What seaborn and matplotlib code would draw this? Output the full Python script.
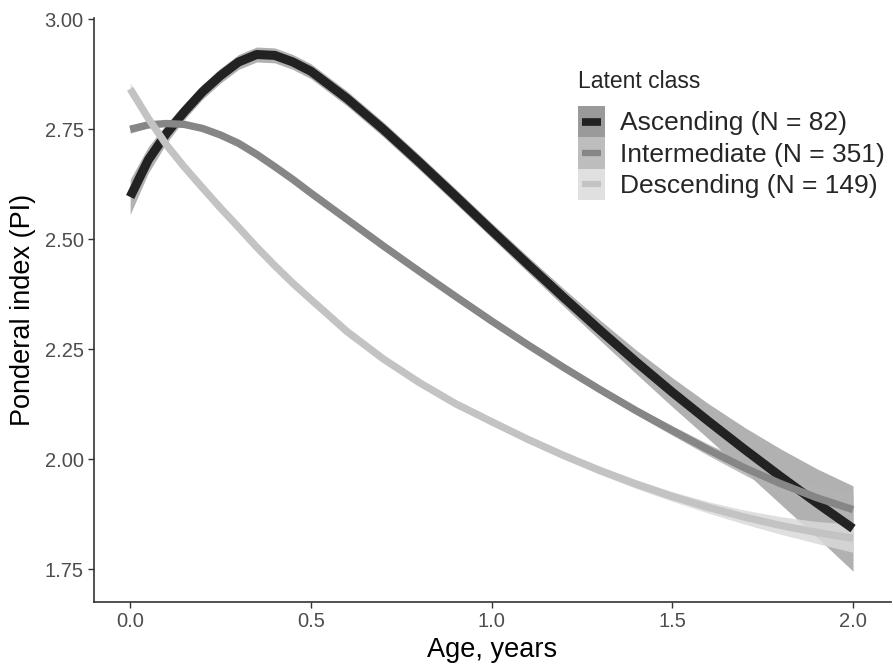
import numpy as np
import pandas as pd
import matplotlib
matplotlib.use("Agg")
import matplotlib.pyplot as plt
import seaborn as sns
from matplotlib.patches import Patch
from matplotlib.lines import Line2D
from matplotlib.legend_handler import HandlerTuple, HandlerBase

# ---- data ----
age = [0.0, 0.05, 0.1, 0.15, 0.2, 0.25, 0.3, 0.35, 0.4, 0.45, 0.5,
       0.6, 0.7, 0.8, 0.9, 1.0, 1.1, 1.2, 1.3, 1.4, 1.5, 1.6, 1.7, 1.8, 1.9, 2.0]

ascending = [2.596, 2.68, 2.74, 2.79, 2.835, 2.872, 2.903, 2.92, 2.918, 2.903, 2.882,
             2.82, 2.75, 2.675, 2.598, 2.52, 2.443, 2.367, 2.293, 2.221, 2.152,
             2.086, 2.022, 1.96, 1.90, 1.842]
ascending_se = [0.04, 0.03, 0.022, 0.018, 0.017, 0.017, 0.017, 0.017, 0.017, 0.017, 0.017,
                0.017, 0.017, 0.017, 0.017, 0.017, 0.018, 0.02, 0.023, 0.027, 0.033,
                0.04, 0.05, 0.063, 0.078, 0.097]

intermediate = [2.750, 2.760, 2.763, 2.761, 2.752, 2.737, 2.718, 2.693, 2.665, 2.636, 2.605,
                2.545, 2.485, 2.427, 2.37, 2.314, 2.26, 2.208, 2.158, 2.11, 2.065,
                2.021, 1.98, 1.944, 1.912, 1.885]
intermediate_se = [0.009, 0.007, 0.006, 0.006, 0.006, 0.006, 0.006, 0.006, 0.006, 0.006, 0.006,
                   0.006, 0.006, 0.006, 0.006, 0.006, 0.006, 0.007, 0.008, 0.009, 0.011,
                   0.013, 0.016, 0.021, 0.027, 0.035]

descending = [2.842, 2.775, 2.715, 2.664, 2.617, 2.571, 2.527, 2.482, 2.44, 2.40, 2.363,
              2.29, 2.228, 2.174, 2.126, 2.085, 2.045, 2.008, 1.974, 1.943, 1.915,
              1.89, 1.868, 1.849, 1.833, 1.82]
descending_se = [0.014, 0.01, 0.008, 0.007, 0.007, 0.007, 0.007, 0.007, 0.007, 0.007, 0.007,
                 0.007, 0.007, 0.007, 0.007, 0.007, 0.007, 0.008, 0.009, 0.01, 0.011,
                 0.013, 0.016, 0.02, 0.025, 0.032]

classes = ["Ascending (N = 82)", "Intermediate (N = 351)", "Descending (N = 149)"]
x_ticks = [0.0, 0.5, 1.0, 1.5, 2.0]
y_ticks = [1.75, 2.00, 2.25, 2.50, 2.75, 3.00]

# ---- styles ----
line_colors = {classes[0]: "#222222", classes[1]: "#868686", classes[2]: "#c3c3c3"}
fill_colors = {classes[0]: "#a4a4a4", classes[1]: "#b3b3b3", classes[2]: "#dadada"}
key_colors = {classes[0]: "#9a9a9a", classes[1]: "#bdbdbd", classes[2]: "#e0e0e0"}
line_widths = {classes[0]: 6.5, classes[1]: 5.3, classes[2]: 5.3}

series = {classes[0]: (ascending, ascending_se),
          classes[1]: (intermediate, intermediate_se),
          classes[2]: (descending, descending_se)}

rows = []
for c, (vals, se) in series.items():
    for a, v, s in zip(age, vals, se):
        rows.append({"age": a, "pi": v, "se": s, "cls": c})
df = pd.DataFrame(rows)

sns.set_style("ticks")
plt.rcParams['font.family'] = ['Liberation Sans', 'DejaVu Sans']

fig = plt.figure(figsize=(8.93, 6.71), dpi=100)
ax = fig.add_axes([94 / 893, 69 / 671, (891 - 94) / 893, (602 - 18) / 671])

for c in classes:
    d = df[df["cls"] == c]
    ax.fill_between(d["age"], d["pi"] - d["se"], d["pi"] + d["se"],
                    color=fill_colors[c], alpha=0.85, linewidth=0, zorder=1)

for c in classes:
    d = df[df["cls"] == c]
    sns.lineplot(data=d, x="age", y="pi", color=line_colors[c],
                 linewidth=line_widths[c], ax=ax, legend=False,
                 estimator=None, sort=False, zorder=2,
                 solid_capstyle="butt", solid_joinstyle="round")

ax.set_xlim(-0.1, 2.105)
ax.set_ylim(1.675, 3.003)
ax.set_xticks(x_ticks)
ax.set_xticklabels([f"{t:.1f}" for t in x_ticks])
ax.set_yticks(y_ticks)
ax.set_yticklabels([f"{t:.2f}" for t in y_ticks])
ax.tick_params(axis="both", labelsize=14.5, labelcolor="#4d4d4d", color="#333333",
               length=4, width=1)
ax.set_xlabel("Age, years", fontsize=19.5, color="black", labelpad=4)
ax.set_ylabel("Ponderal index (PI)", fontsize=19.5, color="black", labelpad=6)
sns.despine(ax=ax)
for s in ["left", "bottom"]:
    ax.spines[s].set_color("#333333")
    ax.spines[s].set_linewidth(1.2)


class ShortLine(HandlerBase):
    def create_artists(self, legend, orig_handle, xdescent, ydescent,
                       width, height, fontsize, trans):
        y = height / 2 - ydescent
        ln = Line2D([-xdescent + 0.17 * width, -xdescent + 0.83 * width], [y, y],
                    color=orig_handle.get_color(), lw=orig_handle.get_linewidth(),
                    solid_capstyle="butt")
        ln.set_transform(trans)
        return [ln]


handles = [(Patch(facecolor=key_colors[c], edgecolor="none"),
            Line2D([0], [0], color=line_colors[c], lw=line_widths[c] * 0.85))
           for c in classes]
leg = ax.legend(handles, classes, title="Latent class", loc="upper left",
                bbox_to_anchor=(575 / 893, 1 - 67 / 671), bbox_transform=fig.transFigure,
                frameon=False, fontsize=19, title_fontsize=16.5,
                handlelength=1.05, handleheight=1.45, handletextpad=0.55,
                labelspacing=0.0, borderaxespad=0, borderpad=0.1,
                handler_map={tuple: HandlerTuple(ndivide=1), Line2D: ShortLine()})
leg._legend_box.align = "left"
leg._legend_box.sep = 9.5

fig.savefig("out.png", dpi=100)
